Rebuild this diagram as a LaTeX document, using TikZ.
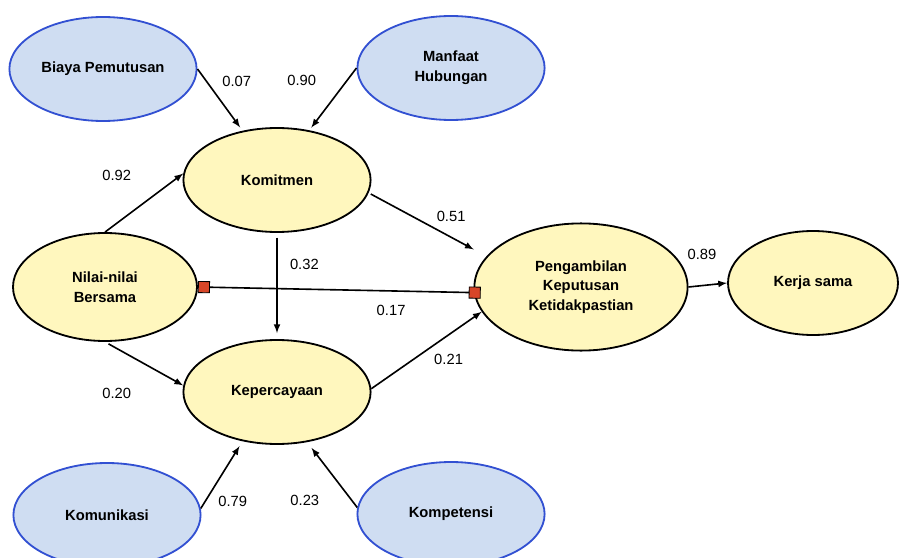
\documentclass[tikz,border=0pt]{standalone}
\usepackage{fontspec}
\setmainfont{Liberation Sans}
\usetikzlibrary{positioning, shapes.geometric, arrows.meta}
\definecolor{latentyellow}{RGB}{255,247,190}
\definecolor{indblue}{RGB}{207,221,242}
\definecolor{indborder}{RGB}{50,80,210}
\definecolor{squarered}{RGB}{215,70,40}

\begin{document}
\begin{tikzpicture}[-latex, line width=1.15pt,
            construct/.style ={ellipse, fill=latentyellow, draw=black, line width=1.3pt, text=black,
            font=\fontsize{10.5}{14}\selectfont\bfseries, align=center, inner sep=0pt,
            minimum width=4.68cm, minimum height=2.6cm},
            indicator/.style ={construct, fill=indblue, draw=indborder},
            coef/.style ={font=\fontsize{10.5}{12}\selectfont, inner sep=1pt, text=black},
            moderator/.style ={{Square[length=0.3cm, width=0.3cm, fill=squarered, line width=0.6pt]}-{Square[length=0.3cm, width=0.3cm, fill=squarered, line width=0.6pt]}}]

        \useasboundingbox (0,0) rectangle (22.525,-13.95);

        %constructos e indicadores
        \node[indicator] (bp) at (2.575,-1.725) {Biaya Pemutusan};
        \node[indicator] (mh) at (11.275,-1.7) {Manfaat\\Hubungan};
        \node[construct] (kom) at (6.925,-4.5) {Komitmen};
        \node[construct, minimum width=4.6cm, minimum height=2.7cm] (nb) at (2.625,-7.175) {Nilai-nilai\\Bersama};
        \node[construct] (kep) at (6.925,-9.8) {Kepercayaan};
        \node[construct, minimum width=5.33cm, minimum height=3.18cm] (pk) at (14.525,-7.175) {Pengambilan\\Keputusan\\Ketidakpastian};
        \node[construct, minimum width=4.25cm] (ks) at (20.325,-7.075) {Kerja sama};
        \node[indicator] (kmk) at (2.675,-12.875) {Komunikasi};
        \node[indicator] (kmp) at (11.275,-12.85) {Kompetensi};

        \path (bp.east) edge [shorten >=0.1cm] node[coef, pos=0.2, right=0.34cm] {0.07} (kom.125);
        \path (mh.west) edge [shorten >=0.08cm] node[coef, pos=0.2, left=0.72cm] {0.90} (kom.57);
        \path (nb.north) edge node[coef, pos=0.15, above=1.0cm] {0.92} (kom.176);
        \path (kom.-8) edge [shorten <=0.06cm, shorten >=0.36cm] node[coef, pos=0.7, above=0.33cm] {0.51} (pk.162);
        \path (kom.south) edge [shorten <=0.12cm, shorten >=0.15cm] node[coef, pos=0.3, right=0.27cm] {0.32} (kep.north);
        \path (nb.east) edge [moderator, shorten >=-0.17cm] node[coef, pos=0.7, below=0.29cm] {0.17} (pk.183);
        \path (nb.south) edge [shorten <=0.1cm] node[coef, pos=0.15, below=0.94cm] {0.20} (kep.176);
        \path (kep.2) edge node[coef, pos=0.7, below=0.42cm] {0.21} (pk.194);
        \path (pk.east) edge node[coef, pos=0.35, above=0.6cm] {0.89} (ks.west);
        \path (kmk.4) edge [shorten >=0.14cm] node[coef, pos=0.1, right=0.28cm] {0.79} (kep.235);
        \path (kmp.176) edge [shorten >=0.18cm] node[coef, pos=0.1, left=0.77cm] {0.23} (kep.-59);

    \end{tikzpicture}
\end{document}
